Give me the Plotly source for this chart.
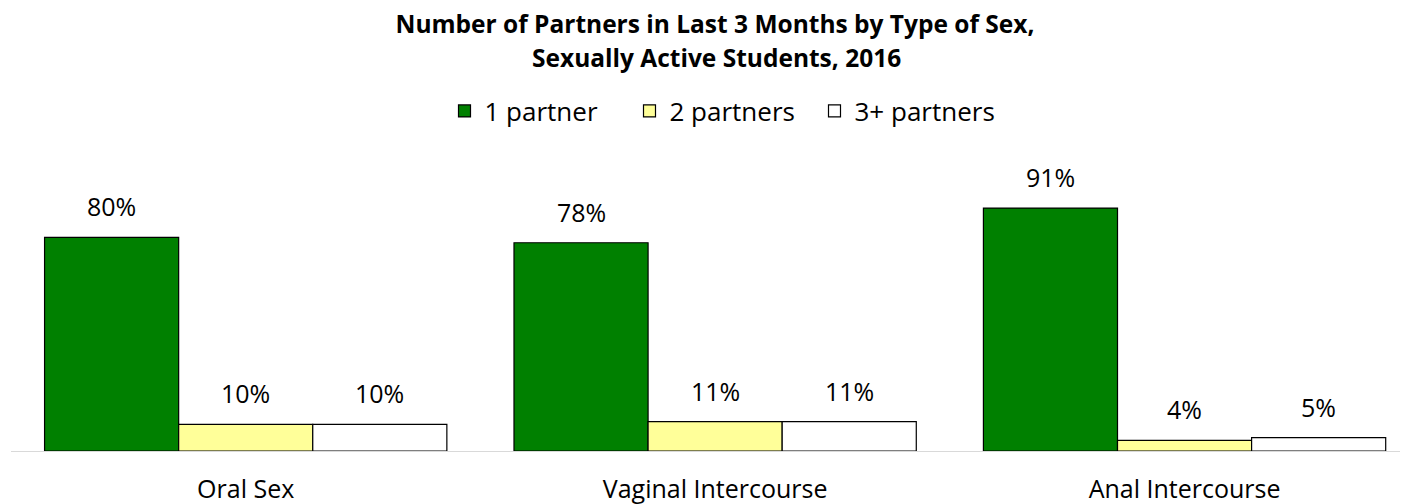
import plotly.graph_objects as go

categories = ["Oral Sex", "Vaginal Intercourse", "Anal Intercourse"]
series_names = ["1 partner", "2 partners", "3+ partners"]
one_partner = [80, 78, 91]
two_partners = [10, 11, 4]
three_plus = [10, 11, 5]
series_values = [one_partner, two_partners, three_plus]
series_colors = ["#008000", "#FFFF99", "#FFFFFF"]
title_line1 = "Number of Partners in Last 3 Months by Type of Sex,"
title_line2 = "Sexually Active Students, 2016"

FONT = "Open Sans"
BARGAP = 0.143
W, H = 1400, 496  # page body has an 8px margin
MT, MB = 176, 53
PH = H - MT - MB

fig = go.Figure()
for name, vals, col in zip(series_names, series_values, series_colors):
    fig.add_trace(go.Bar(
        x=categories, y=vals, name=name,
        marker=dict(color=col, line=dict(color="#000000", width=1.2)),
    ))

# value labels above each bar
n = len(series_names)
w = (1 - BARGAP) / n
for j, vals in enumerate(series_values):
    for i, v in enumerate(vals):
        fig.add_annotation(
            x=i + (j - (n - 1) / 2) * w, y=v, xref="x", yref="y",
            text=f"{v}%", showarrow=False, yanchor="bottom", yshift=12,
            font=dict(family=FONT, size=25, color="#000000"),
        )

# second title line
fig.add_annotation(
    x=707 / W, xref="paper", y=(H - MB - 50) / PH, yref="paper",
    xanchor="center", yanchor="middle", showarrow=False,
    text=f"<b>{title_line2}</b>",
    font=dict(family=FONT, size=24.5, color="#000000"),
)

fig.update_layout(
    width=W, height=H,
    margin=dict(l=3, r=0, t=MT, b=MB),
    paper_bgcolor="#FFFFFF", plot_bgcolor="#FFFFFF",
    barmode="group", bargap=BARGAP, bargroupgap=0,
    title=dict(
        text=title_line1,
        x=707 / W, xanchor="center", y=1 - 16 / H, yanchor="middle",
        font=dict(family=FONT, size=24.5, color="#000000", weight="bold"),
    ),
    legend=dict(
        orientation="h", x=714 / W, xanchor="center", xref="container",
        y=1 - 103 / H, yanchor="middle", yref="container",
        font=dict(family=FONT, size=26, color="#000000"),
        bgcolor="rgba(0,0,0,0)", entrywidth=140, entrywidthmode="pixels",
    ),
    showlegend=True,
    font=dict(family=FONT, color="#000000"),
)
fig.update_xaxes(
    range=[-0.5, 2.476], showline=True, linecolor="#D9D9D9", linewidth=1,
    showgrid=False, zeroline=False, ticks="", ticklabelstandoff=16,
    automargin=False,
    tickfont=dict(family=FONT, size=25, color="#000000"),
)
fig.update_yaxes(range=[0, 100], visible=False, showgrid=False, zeroline=False,
                 automargin=False)

fig.write_html("out.html")
